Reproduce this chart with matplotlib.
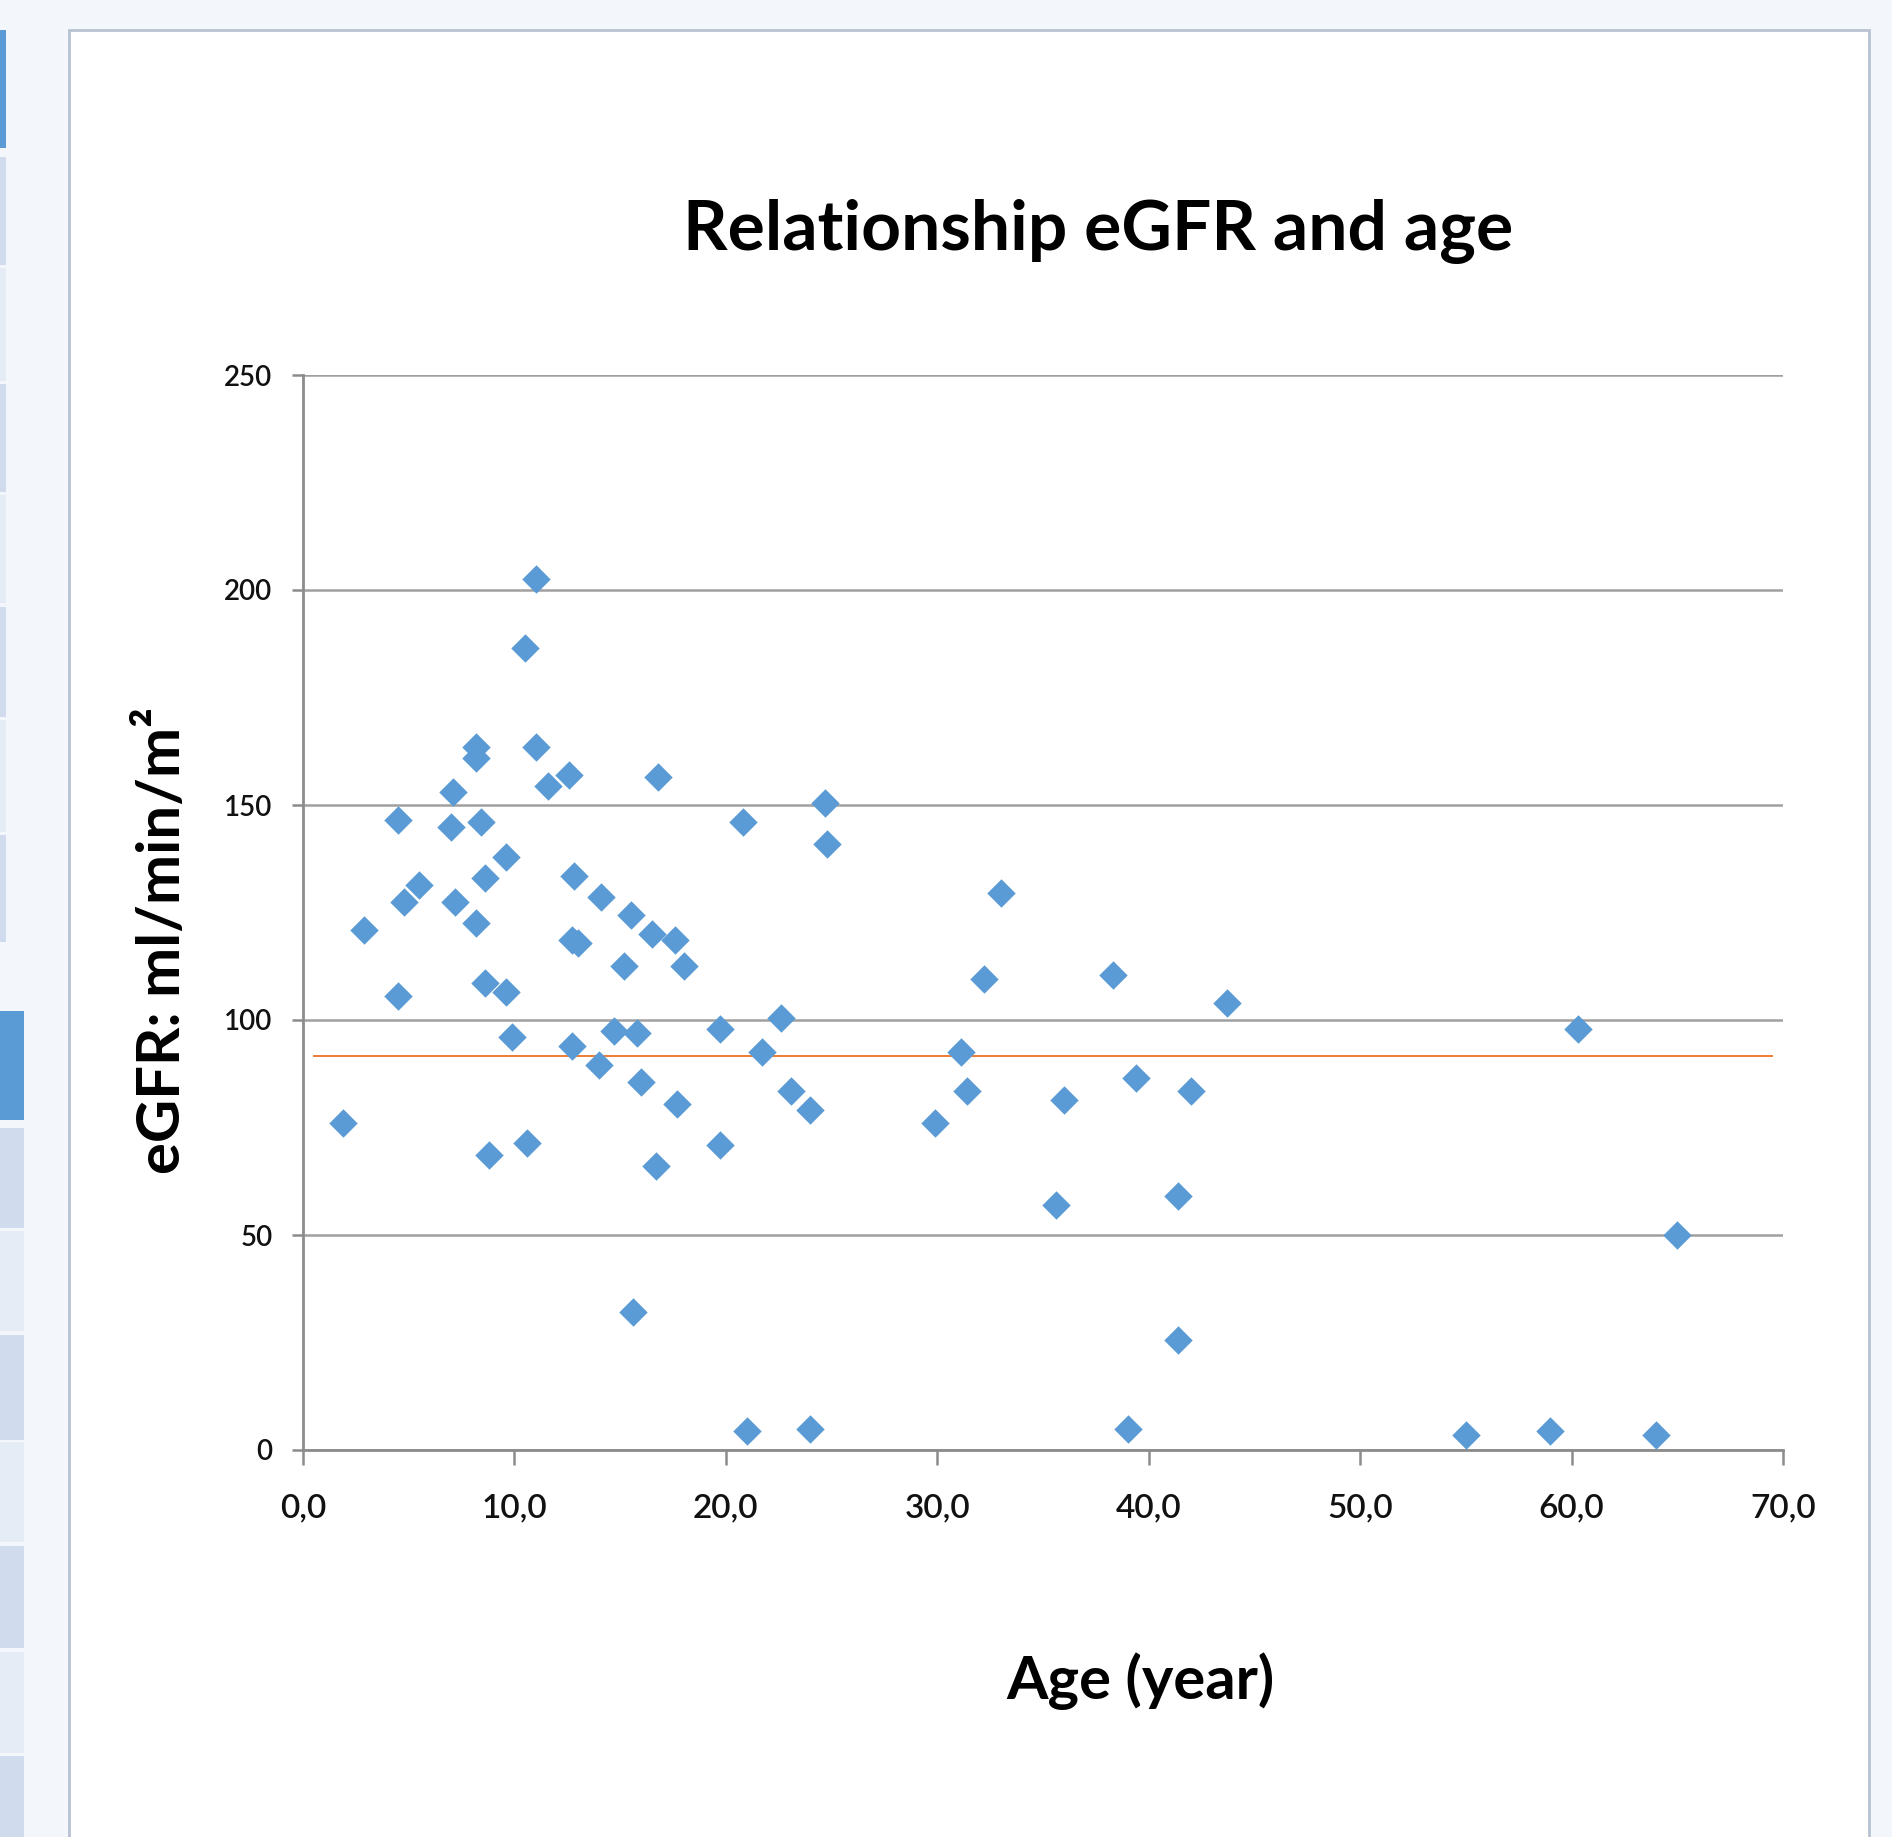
import matplotlib.pyplot as plt
from matplotlib.patches import Rectangle

# Data: age (year) and eGFR (ml/min/m2)
age = [1.9, 2.9, 4.5, 4.8, 4.5, 5.5, 7.1, 7.0, 7.2, 8.2, 8.2, 8.4, 8.2, 8.6, 8.6,
       8.8, 9.6, 9.6, 9.9, 10.5, 11.0, 11.0, 10.6, 11.6, 12.6, 12.8, 12.7, 13.0,
       12.7, 14.0, 14.1, 14.7, 15.2, 15.5, 15.8, 16.0, 15.6, 16.8, 16.5, 16.7,
       17.6, 18.0, 17.7, 19.7, 19.7, 20.8, 21.0, 21.7, 22.6, 23.1, 24.0, 24.0,
       24.7, 24.8, 29.9, 31.1, 31.4, 32.2, 33.0, 35.6, 36.0, 38.3, 39.0, 39.4,
       41.4, 41.4, 42.0, 43.7, 55.0, 59.0, 60.3, 64.0, 65.0]
egfr = [76, 121, 146.5, 127.5, 105.5, 131.5, 153, 145, 127.5, 163.5, 161, 146, 122.5,
        133, 108.5, 68.5, 138, 106.5, 96, 186.5, 202.5, 163.5, 71.5, 154.5, 157, 133.5,
        118.5, 118, 94, 89.5, 128.5, 97.5, 112.5, 124.5, 97, 85.5, 32, 156.5, 120,
        66, 118.5, 112.5, 80.5, 98, 71, 146, 4.5, 92.5, 100.5, 83.5, 79, 5, 150.5,
        141, 76, 92.5, 83.5, 109.5, 129.5, 57, 81.5, 110.5, 5, 86.5, 59, 25.5, 83.5,
        104, 3.5, 4.5, 98, 3.5, 50]

# horizontal reference line (orange series)
ref_x = [0.5, 69.5]
ref_y = [91.7, 91.7]

x_ticks = [0, 10, 20, 30, 40, 50, 60, 70]
x_labels = ['0,0', '10,0', '20,0', '30,0', '40,0', '50,0', '60,0', '70,0']
y_ticks = [0, 50, 100, 150, 200, 250]

W, H = 1892, 1837
fig = plt.figure(figsize=(W / 100, H / 100), dpi=100)
fig.patch.set_facecolor('#F3F6FB')

def px_rect(x, y, w, h, **kw):
    # rectangle given in pixel coords (top-left origin)
    fig.add_artist(Rectangle((x / W, 1 - (y + h) / H), w / W, h / H,
                             transform=fig.transFigure, zorder=-5, **kw))

# white chart area with thin border
px_rect(69, 30, 1800, 1830, facecolor='white', edgecolor='#B8C2D2', linewidth=2)

# left side tabs (spreadsheet UI)
tabs1 = [(30, 118, '#5B9BD5'), (157, 108, '#D0DCEE'), (268, 113, '#E6ECF5'),
         (384, 108, '#D0DCEE'), (495, 108, '#E6ECF5'), (607, 110, '#D0DCEE'),
         (720, 112, '#E6ECF5'), (835, 107, '#D0DCEE')]
for y, h, c in tabs1:
    px_rect(0, y, 6, h, facecolor=c, edgecolor='none')
tabs2 = [(1011, 109, '#5B9BD5'), (1128, 100, '#D0DCEE'), (1231, 100, '#E6ECF5'),
         (1335, 105, '#D0DCEE'), (1442, 100, '#E6ECF5'), (1546, 102, '#D0DCEE'),
         (1652, 101, '#E6ECF5'), (1756, 81, '#D0DCEE')]
for y, h, c in tabs2:
    px_rect(0, y, 24, h, facecolor=c, edgecolor='none')

ax = fig.add_axes([303 / W, 1 - 1450 / H, (1783 - 303) / W, (1450 - 375) / H])
ax.set_facecolor('none')
ax.set_zorder(2)

ax.plot(ref_x, ref_y, color='#ED7D31', linewidth=1.4, zorder=2)
ax.scatter(age, egfr, marker='D', s=210, color='#5B9BD5', linewidths=0, zorder=3)

ax.set_xlim(0, 70)
ax.set_ylim(0, 250)
ax.set_xticks(x_ticks)
ax.set_xticklabels(x_labels)
ax.set_yticks(y_ticks)

ax.grid(axis='y', color='#A0A0A0', linewidth=1.8)
ax.set_axisbelow(True)
for s in ['top', 'right']:
    ax.spines[s].set_visible(False)
for s in ['left', 'bottom']:
    ax.spines[s].set_color('#8C8C8C')
    ax.spines[s].set_linewidth(2)

ax.tick_params(axis='y', length=8, width=1.8, color='#8C8C8C', pad=14,
               labelsize=20)
ax.tick_params(axis='x', length=11, width=1.8, color='#8C8C8C', pad=20,
               labelsize=24)
for lab in ax.get_yticklabels() + ax.get_xticklabels():
    lab.set_fontfamily('Lato')
    lab.set_fontweight('semibold')
    lab.set_color('#111111')

fig.text(1098 / W, 1 - 231 / H, 'Relationship eGFR and age', ha='center',
         va='center', fontsize=50, fontweight='bold', family='Lato')
fig.text(1140 / W, 1 - 1681 / H, 'Age (year)', ha='center', va='center',
         fontsize=43, fontweight='bold', family='Lato')
fig.text(163 / W, 1 - 941 / H, 'eGFR: ml/min/m²', ha='center', va='center',
         rotation=90, fontsize=43, fontweight='bold', family='Lato')

fig.savefig('out.png', dpi=100, facecolor=fig.get_facecolor())
